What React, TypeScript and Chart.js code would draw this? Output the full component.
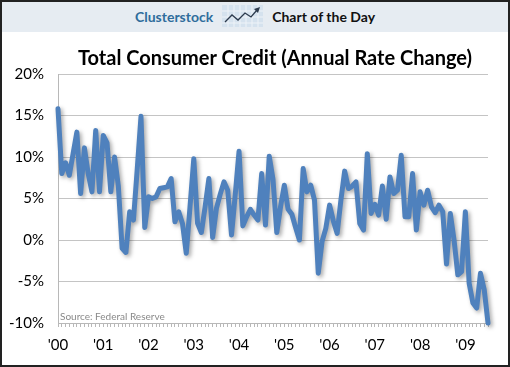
import React, { useEffect, useRef } from "react";
import { Chart, registerables } from "chart.js";

Chart.register(...registerables);

// Year tick labels (January of each year)
const yearLabels = ["'00", "'01", "'02", "'03", "'04", "'05", "'06", "'07", "'08", "'09"];
const years = [2000, 2001, 2002, 2003, 2004, 2005, 2006, 2007, 2008, 2009];

// Annual rate change (%) of total consumer credit, monthly
const rate2000 = [15.8, 8.0, 9.3, 7.8, 10.4, 13.0, 5.6, 11.1, 8.0, 5.8, 13.2, 5.8];
const rate2001 = [12.6, 11.7, 5.8, 10.0, 6.5, -1.0, -1.5, 3.4, 2.4, 8.5, 14.9, 1.5];
const rate2002 = [5.2, 5.0, 5.2, 6.2, 6.3, 6.4, 7.4, 2.2, 3.4, 2.0, -1.6, 4.0];
const rate2003 = [9.8, 2.0, 0.9, 4.0, 7.4, 0.3, 3.8, 5.5, 7.0, 6.0, 0.6, 5.5];
const rate2004 = [10.7, 1.7, 2.8, 3.7, 3.0, 2.4, 8.0, 1.8, 10.1, 7.3, 0.9, 4.0];
const rate2005 = [6.6, 3.7, 3.1, 1.5, 0.0, 8.6, 5.8, 6.6, 4.8, -4.0, -0.2, 1.4];
const rate2006 = [4.2, 2.3, 0.8, 4.8, 8.3, 6.2, 6.5, 7.0, 2.0, 1.2, 10.4, 3.2];
const rate2007 = [4.3, 3.0, 6.5, 2.5, 7.6, 5.6, 6.0, 10.2, 2.8, 2.8, 8.0, 1.2];
const rate2008 = [5.8, 4.2, 6.0, 4.0, 3.3, 4.2, 3.4, -2.9, 3.2, 0.0, -4.2, -3.8];
const rate2009 = [3.4, -5.2, -7.6, -8.2, -4.0, -6.0, -10.0];

const rateByYear = [rate2000, rate2001, rate2002, rate2003, rate2004, rate2005, rate2006, rate2007, rate2008, rate2009];

// Y axis ticks
const yTicks = [-10, -5, 0, 5, 10, 15, 20];

const TITLE = "Total Consumer Credit (Annual Rate Change)";
const SOURCE = "Source: Federal Reserve";

const categories: string[] = [];
const values: number[] = [];
rateByYear.forEach((arr, yi) => {
  arr.forEach((v, m) => {
    categories.push(`${years[yi]}-${String(m + 1).padStart(2, "0")}`);
    values.push(v);
  });
});

const FONT = "Lato, 'Open Sans', 'Liberation Sans', sans-serif";

const shadowPlugin = {
  id: "lineShadow",
  beforeDatasetDraw(chart: any) {
    const ctx = chart.ctx;
    ctx.save();
    ctx.shadowColor = "rgba(0,0,0,0.35)";
    ctx.shadowBlur = 4;
    ctx.shadowOffsetX = 2;
    ctx.shadowOffsetY = 2;
  },
  afterDatasetDraw(chart: any) {
    chart.ctx.restore();
  },
};

function Icon() {
  return (
    <svg width="41" height="22" viewBox="0 0 41 22" style={{ display: "block" }}>
      <rect x="0" y="0" width="41" height="22" fill="#d5e2ee" />
      {[6, 12, 18, 24, 30, 36].map((x) => (
        <line key={x} x1={x} y1="0" x2={x} y2="22" stroke="#eef3f8" strokeWidth="1" />
      ))}
      {[6, 12, 18].map((y) => (
        <line key={"h" + y} x1="0" y1={y} x2="41" y2={y} stroke="#eef3f8" strokeWidth="1" />
      ))}
      <polyline
        points="3,17 10,10 16,15 23,8 29,12 35,5"
        fill="none"
        stroke="#2d3b4e"
        strokeWidth="1.3"
      />
      <polygon points="38,2 32,4 36,8" fill="#2d3b4e" />
    </svg>
  );
}

export default function App() {
  const canvasRef = useRef<HTMLCanvasElement | null>(null);

  useEffect(() => {
    document.body.style.margin = "0";
    const canvas = canvasRef.current;
    if (!canvas) return;
    const chart = new Chart(canvas, {
      type: "line",
      data: {
        labels: categories,
        datasets: [
          {
            data: values,
            borderColor: "#4f81bd",
            borderWidth: 5,
            pointRadius: 0,
            tension: 0,
            borderJoinStyle: "round",
            borderCapStyle: "round",
            clip: 10,
          } as any,
        ],
      },
      options: {
        animation: false,
        responsive: false,
        devicePixelRatio: 1,
        layout: { padding: { top: 74, right: 22, bottom: 0, left: 0 } },
        plugins: {
          legend: { display: false },
          tooltip: { enabled: false },
          title: { display: false },
        },
        scales: {
          x: {
            type: "category",
            afterFit: (scale: any) => {
              scale.height = 44;
            },
            grid: {
              drawOnChartArea: false,
              drawTicks: true,
              tickLength: 4,
              color: "#b8b8b8",
            },
            border: { display: true, color: "#b8b8b8" },
            ticks: {
              autoSkip: false,
              maxRotation: 0,
              minRotation: 0,
              padding: 9,
              color: "#000",
              font: { family: FONT, size: 15 },
              callback: (_v: any, i: number) => {
                const c = categories[i];
                if (c && c.endsWith("-01")) {
                  const yi = years.indexOf(Number(c.slice(0, 4)));
                  return yearLabels[yi];
                }
                return "";
              },
            },
          },
          y: {
            min: yTicks[0],
            max: yTicks[yTicks.length - 1],
            afterFit: (scale: any) => {
              scale.width = 58;
            },
            afterBuildTicks: (scale: any) => {
              scale.ticks = yTicks.map((v) => ({ value: v }));
            },
            grid: { color: "#c4c4c4", drawTicks: false },
            border: { display: true, color: "#b8b8b8" },
            ticks: {
              padding: 14,
              color: "#000",
              font: { family: FONT, size: 15 },
              callback: (v: any) => `${v}%`,
            },
          },
        },
      },
      plugins: [shadowPlugin],
    });
    return () => chart.destroy();
  }, []);

  return (
    <div
      style={{
        position: "absolute",
        left: 0,
        top: 0,
        width: 510,
        height: 367,
        background: "#fff",
        overflow: "hidden",
      }}
    >
      <canvas
        ref={canvasRef}
        width={510}
        height={367}
        style={{ position: "absolute", left: 0, top: 0, width: 510, height: 367 }}
      />
      <div
        style={{
          position: "absolute",
          left: 0,
          top: 0,
          width: 510,
          height: 32,
          background: "#e6ecf2",
          display: "flex",
          alignItems: "center",
          justifyContent: "center",
          gap: 9,
          fontFamily: FONT,
          fontWeight: 700,
          fontSize: 14,
        }}
      >
        <span style={{ color: "#2f6d9c" }}>Clusterstock</span>
        <Icon />
        <span style={{ color: "#111" }}>Chart of the Day</span>
      </div>
      <div
        style={{
          position: "absolute",
          left: 40,
          top: 43,
          width: 470,
          textAlign: "center",
          fontFamily: FONT,
          fontWeight: 700,
          fontSize: 20,
          lineHeight: "28px",
          color: "#000",
          whiteSpace: "nowrap",
        }}
      >
        {TITLE}
      </div>
      <div
        style={{
          position: "absolute",
          left: 60,
          top: 310,
          fontFamily: FONT,
          fontSize: 10,
          color: "#8a8a8a",
          whiteSpace: "nowrap",
        }}
      >
        {SOURCE}
      </div>
      <div
        style={{
          position: "absolute",
          left: 0,
          top: 0,
          width: 510,
          height: 367,
          boxSizing: "border-box",
          border: "2px solid #222",
          pointerEvents: "none",
        }}
      />
    </div>
  );
}
